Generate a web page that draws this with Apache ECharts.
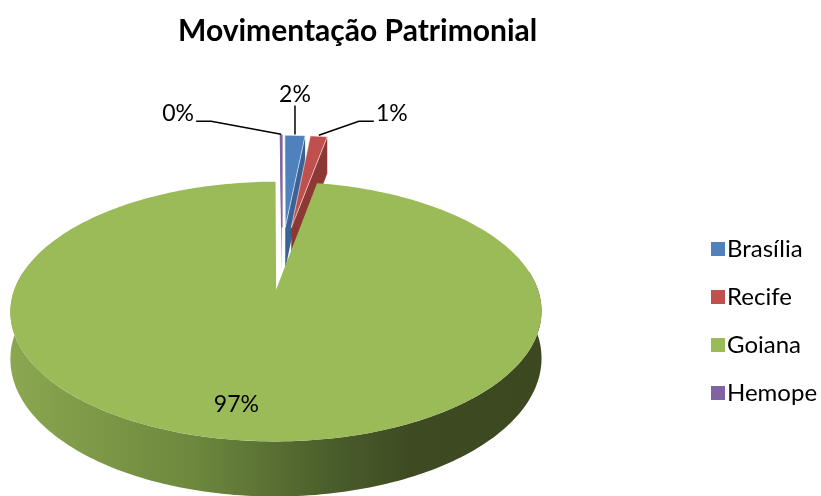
<!DOCTYPE html>
<html>
<head>
<meta charset="utf-8">
<script src="https://cdn.jsdelivr.net/npm/echarts@6/dist/echarts.min.js"></script>
<style>
  html, body { margin: 0; background: #fff; }
  #main { width: 821px; height: 496px; }
</style>
</head>
<body>
<div id="main"></div>
<script>
// data
const categories = ['Brasília', 'Recife', 'Goiana', 'Hemope'];
const values = [1.55, 1.3, 97.05, 0.1];

// styles
const topColors = ['#4f81bd', '#c0504d', '#9bbb59', '#8064a2'];
const wallColors = ['#3b6294', '#8e3835', '#6f873d', '#5e4a7a'];
const explode = [0.28, 0.28, 0.26, 0.28];
const labelShift = [[0, -41], [73, -23], [-18, -1], [-103, -22]];
const FONT = 'Lato, "Open Sans", sans-serif';

// fake 3d pie projection (tilted disc, a bit of perspective)
const geo = { cx: 282, cy: 258.5, R: 251, K: 116, p: 0.16, D: 44 };

const proj = function (u, v, z) {
  const w = 1 + geo.p * v;
  return [geo.cx + geo.R * u / w, geo.cy + (-geo.K * v + geo.D * z) / w];
};

const total = values.reduce((a, b) => a + b, 0);

const sideFill = {
  type: 'linear', x: 10, y: 0, x2: 545, y2: 0, global: true,
  colorStops: [
    { offset: 0, color: '#8ba750' },
    { offset: 0.35, color: '#6d873d' },
    { offset: 0.6, color: '#4a5d2b' },
    { offset: 0.75, color: '#3e4b22' },
    { offset: 1, color: '#3c4820' }
  ]
};

const makeRender = function (idx) {
  return function (params, api) {
    const val = api.value(0);
    let before = 0;
    for (let i = 0; i < idx; i++) before += values[i];
    const a0 = before / total * Math.PI * 2;
    const a1 = (before + val) / total * Math.PI * 2;
    const mid = (a0 + a1) / 2;
    const ou = explode[idx] * Math.sin(mid);
    const ov = explode[idx] * Math.cos(mid);
    const rim = (t, z, r) => proj(ou + (r || 1) * Math.sin(t), ov + (r || 1) * Math.cos(t), z);
    const arc = function (s, e, z) {
      const n = Math.max(2, Math.ceil((e - s) / 0.02));
      const pts = [];
      for (let k = 0; k <= n; k++) pts.push(rim(s + (e - s) * k / n, z));
      return pts;
    };
    const children = [];

    // outer side
    const s0 = Math.max(a0, Math.PI / 2 - 0.15);
    const s1 = Math.min(a1, Math.PI * 1.5 + 0.15);
    if (s1 > s0) {
      const pts = arc(s0, s1, 0).concat(arc(s0, s1, 1).reverse());
      children.push({ type: 'polygon', shape: { points: pts }, style: { fill: idx === 2 ? sideFill : wallColors[idx] } });
    }
    // radial walls that face the viewer
    if (Math.sin(a1) > 0) {
      children.push({
        type: 'polygon',
        shape: { points: [proj(ou, ov, 0), rim(a1, 0), rim(a1, 1), proj(ou, ov, 1)] },
        style: { fill: wallColors[idx] }
      });
    }
    if (Math.sin(a0) < 0) {
      children.push({
        type: 'polygon',
        shape: { points: [proj(ou, ov, 0), rim(a0, 0), rim(a0, 1), proj(ou, ov, 1)] },
        style: { fill: wallColors[idx] }
      });
    }
    // top face
    const topPts = [proj(ou, ov, 0)].concat(arc(a0, a1, 0));
    children.push({
      type: 'polygon',
      shape: { points: topPts },
      style: {
        fill: topColors[idx],
        stroke: idx === 3 ? topColors[idx] : (idx === 2 ? null : 'rgba(255,255,255,0.7)'),
        lineWidth: idx === 3 ? 1.6 : 0.8
      }
    });

    // label
    const pct = Math.round(val / total * 100) + '%';
    const sh = labelShift[idx];
    let anchor;
    if (idx === 2) {
      anchor = rim(mid, 0, 0.8);
    } else {
      anchor = rim(mid, 0);
    }
    const tx = anchor[0] + sh[0];
    const ty = anchor[1] + sh[1];
    if (idx !== 2) {
      let line;
      if (sh[0] === 0) {
        line = [[tx, ty + 11], [anchor[0], anchor[1] - 1]];
      } else {
        const s = Math.sign(sh[0]);
        const endX = tx - s * 18;
        line = [[endX, ty + 8], [endX - s * 15, ty + 8], [anchor[0], anchor[1] - 1]];
      }
      children.push({ type: 'polyline', shape: { points: line }, style: { stroke: '#000', lineWidth: 1.5, fill: null } });
    }
    children.push({
      type: 'text',
      x: tx, y: ty,
      style: { text: pct, font: '23px ' + FONT, fill: '#000', align: 'center', verticalAlign: 'middle' }
    });

    return { type: 'group', children: children };
  };
};

const chart = echarts.init(document.getElementById('main'));

const series = categories.map((name, i) => ({
  name: name,
  type: 'custom',
  coordinateSystem: 'none',
  z: i === 2 ? 3 : 2,
  itemStyle: { color: topColors[i] },
  data: [values[i]],
  renderItem: makeRender(i),
  silent: true
}));

chart.setOption({
  animation: false,
  title: {
    text: 'Movimentação Patrimonial',
    left: 173,
    top: 11,
    textStyle: { fontFamily: FONT, fontWeight: 'bold', fontSize: 30, color: '#000' }
  },
  legend: {
    orient: 'vertical',
    left: 706,
    top: 232,
    itemWidth: 14,
    itemHeight: 14,
    itemGap: 24,
    icon: 'rect',
    data: categories,
    textStyle: { fontFamily: FONT, fontSize: 24, color: '#000', padding: [0, 0, 0, -3] }
  },
  series: series
});
</script>
</body>
</html>
